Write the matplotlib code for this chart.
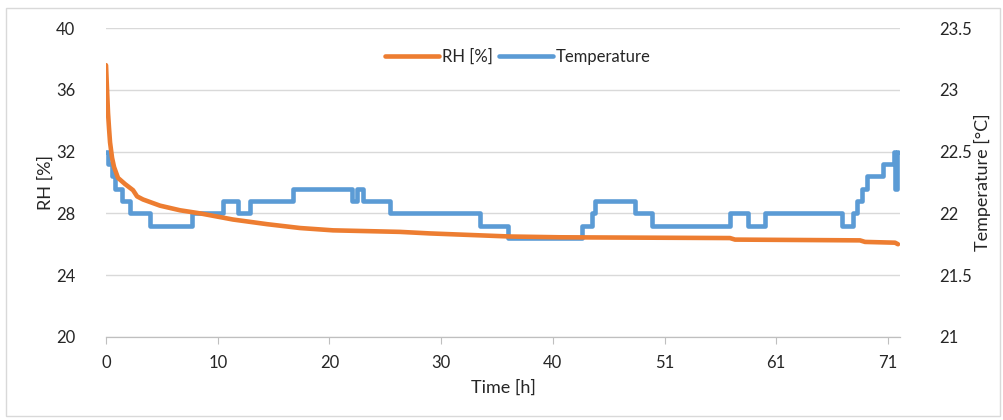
import matplotlib.pyplot as plt
from matplotlib.patches import Rectangle

# Time axis (category positions) and labels
tick_pos = [0, 10, 20, 30, 40, 50, 60, 70]
tick_labels = ["0", "10", "20", "30", "40", "51", "61", "71"]

# Relative humidity [%]
rh_time = [0, 0.09, 0.18, 0.27, 0.36, 0.54, 0.72, 1.07, 1.70, 2.42, 2.78, 3.31,
           4.83, 6.62, 8.41, 11.37, 14.41, 17.37, 20.32, 26.32, 29.01, 32.59,
           36.17, 40.64, 55.86, 56.31, 67.50, 67.95, 70.64, 70.90]
rh = [37.6, 36.0, 34.5, 33.5, 32.6, 31.6, 31.0, 30.3, 29.9, 29.5, 29.1, 28.9,
      28.5, 28.2, 28.0, 27.6, 27.3, 27.05, 26.9, 26.8, 26.7, 26.6,
      26.5, 26.45, 26.4, 26.3, 26.25, 26.15, 26.1, 26.0]

# Temperature [°C] (step changes)
t_time = [0, 0.18, 0.54, 0.81, 1.43, 2.15, 3.94, 7.70, 10.47, 11.82, 12.89,
          16.74, 22.02, 22.47, 23.01, 25.43, 33.48, 35.99, 42.61, 43.51, 43.78,
          47.36, 48.88, 55.86, 57.48, 59.00, 65.89, 66.88, 67.23, 67.68, 68.13,
          69.56, 70.55, 70.64, 70.81, 70.90]
temp = [22.5, 22.4, 22.3, 22.2, 22.1, 22.0, 21.9, 22.0, 22.1, 22.0, 22.1,
        22.2, 22.1, 22.2, 22.1, 22.0, 21.9, 21.8, 21.9, 22.0, 22.1,
        22.0, 21.9, 22.0, 21.9, 22.0, 21.9, 22.0, 22.1, 22.2, 22.3,
        22.4, 22.5, 22.2, 22.5, 22.5]

plt.rcParams['font.family'] = ['Lato', 'DejaVu Sans']
orange = "#ED7D31"
blue = "#5B9BD5"
txt = "#262626"

fig = plt.figure(figsize=(10.04, 4.2), dpi=100)
ax = fig.add_axes([0.1056, 0.198, 0.7908, 0.735])
ax2 = ax.twinx()

l1, = ax.plot(rh_time, rh, color=orange, lw=3.3, solid_capstyle="round", label="RH [%]")
l2, = ax2.plot(t_time, temp, color=blue, lw=3.3, drawstyle="steps-post",
               solid_capstyle="round", label="Temperature", zorder=3)
ax.set_zorder(ax2.get_zorder() + 1)
ax.patch.set_visible(False)

ax.set_xlim(0, 71.08)
ax.set_ylim(20, 40)
ax.set_yticks([20, 24, 28, 32, 36, 40])
ax2.set_ylim(21, 23.5)
ax2.set_yticks([21, 21.5, 22, 22.5, 23, 23.5])
ax2.set_yticklabels(["21", "21.5", "22", "22.5", "23", "23.5"])
ax.set_xticks(tick_pos)
ax.set_xticklabels(tick_labels)

# gridlines on the lower (temperature) axes so both lines sit above them
ax2.grid(axis="y", color="#D9D9D9", lw=1, zorder=0)
ax2.set_axisbelow(True)
for a in (ax, ax2):
    for s in ("top", "left", "right"):
        a.spines[s].set_visible(False)
    a.spines["bottom"].set_color("#BFBFBF")
ax.tick_params(axis="x", colors="#BFBFBF", length=5, labelcolor=txt, labelsize=12, pad=8)
ax.tick_params(axis="y", length=0, labelcolor=txt, labelsize=12, pad=22)
ax2.tick_params(axis="y", length=0, labelcolor=txt, labelsize=12, pad=28)

ax.set_xlabel("Time [h]", fontsize=13, color=txt, labelpad=6)
ax.set_ylabel("RH [%]", fontsize=13, color=txt, labelpad=2)
ax2.set_ylabel("Temperature [°C]", fontsize=13, color=txt, labelpad=2)

ax.legend(handles=[l1, l2], loc="center", bbox_to_anchor=(0.519, 0.906), ncol=2,
          frameon=False, fontsize=12, handlelength=3.2, columnspacing=0.4,
          handletextpad=0.2, labelcolor=txt)

fig.patches.append(Rectangle((0.006, 0.01), 0.99, 0.97, transform=fig.transFigure,
                             fill=False, edgecolor="#D9D9D9", lw=1))

fig.savefig("out.png", dpi=100)
